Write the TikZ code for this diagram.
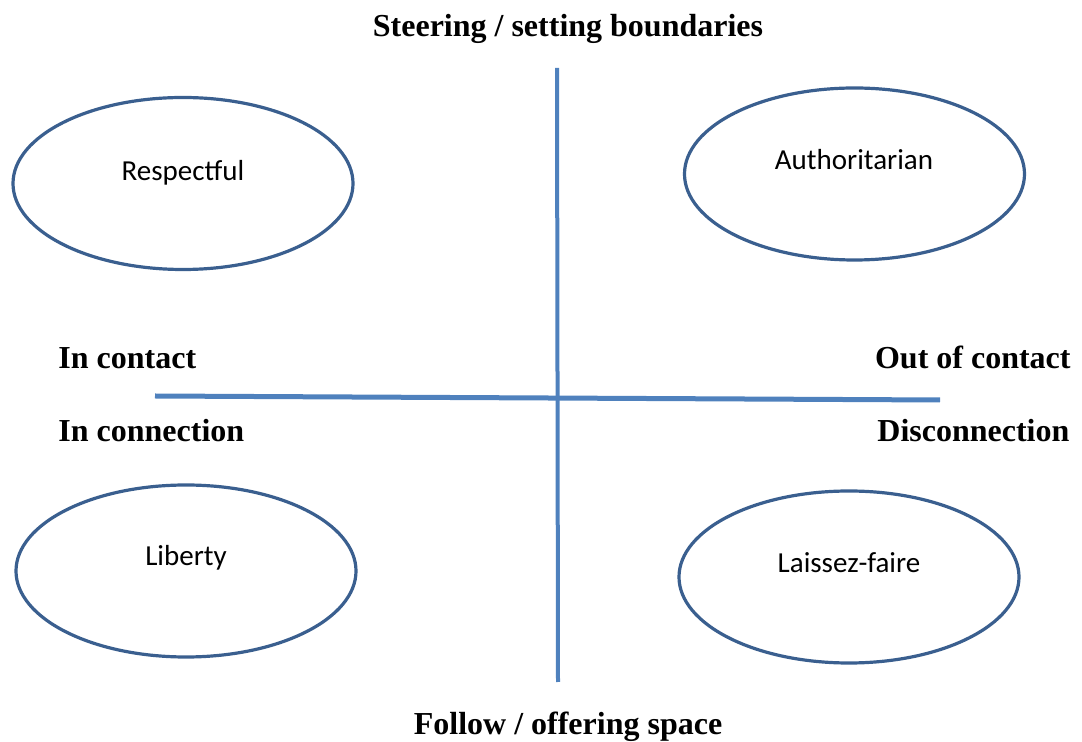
\documentclass[tikz,border=0pt]{standalone}
\usepackage{fontspec}
\setmainfont{Liberation Serif}
\newfontfamily\ovalfont{Carlito}
\usepackage{xcolor}
\definecolor{axisblue}{HTML}{4F81BD}
\definecolor{ovalblue}{HTML}{3A5F8F}
\usetikzlibrary{calc}
\usetikzlibrary{positioning}
\usetikzlibrary{shapes.geometric}

\begin{document}
\begin{tikzpicture}[x=0.5pt, y=-0.5pt, % Quadrants
    oval/.style={draw=ovalblue, line width=1.6pt, ellipse,
      minimum width=170pt, minimum height=86pt, inner sep=0pt},
    ovaltext/.style={anchor=base, inner sep=0pt,
      font=\ovalfont\fontsize{14.5}{17}\selectfont},
    axistext/.style={inner sep=0pt, font=\bfseries\fontsize{16}{19}\selectfont},
    axisline/.style={draw=axisblue}]

      \useasboundingbox (0, 0) rectangle (1082, 742);

      % axes
      \coordinate (left) at (155, 396);
      \coordinate (right) at (940, 400);
      \coordinate (top) at (557, 68);
      \coordinate (bottom) at (558, 682);
      \draw [axisline, line width=2.5pt] (left) -- (right);
      \draw [axisline, line width=2pt] (top) -- (bottom);

      % ovals
      \node [oval] (respectful) at (183, 183.5) {};
      \node [oval] (authoritarian) at (854.5, 174) {};
      \node [oval] (liberty) at (186, 571) {};
      \node [oval] (laissez) at (849, 577) {};

      \node [ovaltext] (respectfultext) at (183, 181) {Respectful};
      \node [ovaltext] (authoritariantext) at (854, 170) {Authoritarian};
      \node [ovaltext] (libertytext) at (186, 566) {Liberty};
      \node [ovaltext] (laissezt) at (849, 573) {Laissez-faire};

      % labels
      \node [axistext, anchor=base] (steering) at (568, 37)
      {Steering / setting boundaries};
      \node [axistext, anchor=base] (follow) at (568, 734)
      {Follow / offering space};
      \node [axistext, anchor=base west] (incontact) at (58, 369) {In contact};
      \node [axistext, anchor=base west] (inconnection) at (58, 442) {In connection};
      \node [axistext, anchor=base east] (outofcontact) at (1071, 369) {Out of contact};
      \node [axistext, anchor=base west] (disconnection) at (877, 442) {Disconnection};

    \end{tikzpicture}
\end{document}
